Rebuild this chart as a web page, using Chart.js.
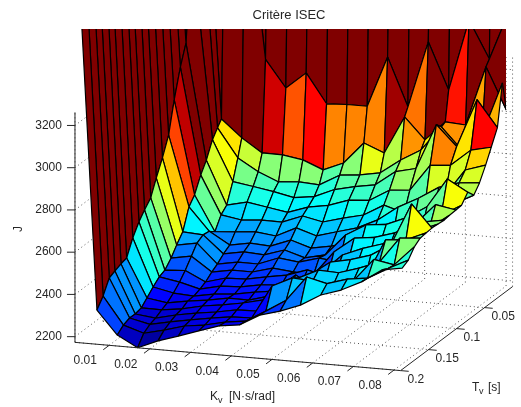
<!DOCTYPE html>
<html><head><meta charset="utf-8">
<style>html,body{margin:0;padding:0;background:#fff}canvas{display:block}</style>
<script src="https://cdn.jsdelivr.net/npm/chart.js@4"></script></head>
<body><canvas id="c" width="521" height="407"></canvas>
<script>
// Tick labels
const kvTicks=[0.01,0.02,0.03,0.04,0.05,0.06,0.07,0.08];
const tvTicks=[0.05,0.1,0.15,0.2];
const jTicks=[2200,2400,2600,2800,3000,3200];
const title='Critère ISEC';
// Grid of the surface
const kv=[0.002,0.007,0.012,0.017,0.022,0.027,0.032,0.037,0.042,0.047,0.052,0.057,0.062,0.067,0.072,0.077,0.082];
const tv=[0.003,0.008,0.014,0.021,0.03,0.041,0.051,0.062,0.072,0.083,0.094,0.104,0.115,0.125,0.136,0.147,0.157,0.168,0.178,0.189,0.2];
// J values, one array per Kv column, one entry per Tv row
const J00=[5000,4950,4900,4860,4820,4780,4740,4700,4660,4620,4580,4540,4500,4460,4420,4380,4340,4300,4250,4200,4134];
const J01=[4600,4500,4400,4100,3700,3283,3189,3056,2909,2823,2749,2675,2640,2603,2549,2476,2468,2456,2443,2379,2335];
const J02=[4300,4000,2878,2850,2812,2736,2686,2614,2577,2481,2440,2398,2363,2351,2325,2295,2268,2261,2262,2250,2225];
const J03=[4200,4000,2797,2716,2622,2532,2506,2448,2470,2475,2458,2416,2370,2335,2305,2280,2267,2250,2240,2220,2173];
const J04=[4100,3165,2734,2659,2607,2555,2490,2456,2413,2393,2367,2349,2324,2310,2299,2297,2280,2273,2260,2243,2214];
const J05=[4100,3038,2733,2619,2591,2539,2498,2464,2431,2411,2385,2367,2351,2333,2317,2310,2302,2290,2278,2271,2245];
const J06=[4100,3118,2718,2628,2571,2523,2497,2453,2425,2405,2384,2366,2354,2337,2325,2328,2316,2304,2295,2284,2278];
const J07=[4100,2980,2679,2622,2584,2556,2534,2500,2462,2437,2421,2393,2373,2355,2343,2327,2333,2322,2309,2306,2310];
const J08=[4100,2985,2720,2676,2626,2573,2514,2470,2432,2408,2410,2383,2390,2363,2356,2354,2356,2325,2312,2319,2323];
const J09=[4100,2985,2823,2686,2648,2606,2541,2498,2450,2430,2437,2377,2423,2376,2441,2363,2412,2385,2472,2375,2378];
const J10=[4100,3227,2784,2704,2665,2613,2564,2525,2478,2533,2426,2494,2398,2441,2388,2471,2410,2498,2519,2435,2405];
const J11=[4100,2999,2963,2773,2736,2670,2619,2571,2519,2589,2501,2568,2477,2530,2471,2540,2466,2544,2512,2553,2442];
const J12=[4200,3315,2863,2829,2759,2678,2590,2640,2510,2600,2530,2580,2490,2570,2510,2560,2500,2540,2500,2530,2498];
const J13=[4200,3095,2956,2946,2975,2804,2620,2690,2570,2640,2540,2610,2560,2600,2520,2590,2500,2570,2530,2560,2530];
const J14=[4300,3435,2950,2846,2880,2813,2690,2750,2610,2700,2590,2660,2620,2640,2560,2650,2690,2607,2640,2573,2577];
const J15=[4300,3259,3234,2926,3110,2893,2819,2780,2700,2840,2690,2760,2670,2720,2700,2849,2699,2729,2622,2627,2642];
const J16=[4400,3500,3038,3180,2986,2915,2850,2788,2750,2786,2746,2743,2741,2737,2740,2743,2741,2737,2717,2675,2659];
const cols=[J00,J01,J02,J03,J04,J05,J06,J07,J08,J09,J10,J11,J12,J13,J14,J15,J16];

// Axis limits and view
const kvMin=0.0016,kvMax=0.0816,tvMin=0,tvMax=0.2,jMin=2173,jMax=3262;
function P(k,t,j){return {x:76.6+4070*(k-0.002)+560*(tvMax-t),
  y:342.5+353*(k-0.002)-420*(tvMax-t)-(j-jMin)*0.2112};}
function depth(k,t){return 353*k+420*t;}
function jet(v){let t=Math.max(0,Math.min(1,(v-jMin)/(jMax-jMin)));
  t=Math.floor(t*63.999)/63;
  const f=a=>Math.round(255*Math.max(0,Math.min(1,1.5-Math.abs(4*t-a))));
  return `rgb(${f(3)},${f(2)},${f(1)})`;}

const faces=[];
for(let c=0;c<kv.length-1;c++)for(let r=0;r<tv.length-1;r++){
  const p=[P(kv[c],tv[r],cols[c][r]),P(kv[c+1],tv[r],cols[c+1][r]),
           P(kv[c+1],tv[r+1],cols[c+1][r+1]),P(kv[c],tv[r+1],cols[c][r+1])];
  p.push(p[0]);
  faces.push({d:depth((kv[c]+kv[c+1])/2,(tv[r]+tv[r+1])/2),
    ds:{data:p,showLine:true,fill:'shape',backgroundColor:jet(cols[c][r]),borderColor:'#000',
        borderWidth:1.2,borderJoinStyle:'bevel',pointRadius:0,tension:0,clip:0}});
}
faces.sort((a,b)=>b.d-a.d); // nearest first: Chart.js paints the last dataset first

const solid=[],dots=[];
const L=(a,b)=>solid.push({data:[a,b],showLine:true,borderColor:'#262626',borderWidth:1,pointRadius:0,clip:false,fill:false});
const D=(a,b)=>dots.push({data:[a,b],showLine:true,borderColor:'#555',borderWidth:1,borderDash:[1,3],pointRadius:0,clip:false,fill:false});
L(P(kvMin,tvMax,jMin),P(kvMin,tvMax,jMax));
L(P(kvMin,tvMax,jMin),P(kvMax,tvMax,jMin));
L(P(kvMax,tvMax,jMin),P(kvMax,tvMin,jMin));
jTicks.forEach(j=>{const a=P(kvMin,tvMax,j);L(a,{x:a.x-8,y:a.y});
  D(P(kvMin,tvMax,j),P(kvMin,tvMin,j));D(P(kvMin,tvMin,j),P(kvMax,tvMin,j));});
kvTicks.forEach(k=>{L(P(k,tvMax,jMin),P(k,tvMax+0.0105,jMin));
  D(P(k,tvMax,jMin),P(k,tvMin,jMin));D(P(k,tvMin,jMin),P(k,tvMin,jMax));});
tvTicks.forEach(t=>{L(P(kvMax,t,jMin),P(kvMax+0.002,t,jMin));
  D(P(kvMin,t,jMin),P(kvMax,t,jMin));D(P(kvMin,t,jMin),P(kvMin,t,jMax));});
D(P(kvMax,tvMin,jMin),P(kvMax,tvMin,jMax));
D(P(kvMin,tvMin,jMin),P(kvMin,tvMin,jMax));

const labels={id:'labels',afterDraw(ch){
  const g=ch.ctx,X=ch.scales.x,Y=ch.scales.y;
  const px=v=>X.getPixelForValue(v),py=v=>Y.getPixelForValue(v);
  g.save();g.fillStyle='#262626';g.textBaseline='middle';g.font='12px "Liberation Sans"';
  g.textAlign='right';
  jTicks.forEach(j=>{const a=P(kvMin,tvMax,j);g.fillText(String(j),px(a.x-13),py(a.y));});
  g.textAlign='center';
  kvTicks.forEach(k=>{const a=P(k,tvMax,jMin);g.fillText(String(k),px(a.x-24),py(a.y+15.5));});
  g.textAlign='left';
  tvTicks.forEach(t=>{const a=P(kvMax,t,jMin);g.fillText(String(t),px(a.x+7),py(a.y+9));});
  g.textAlign='center';
  g.font='13px "Liberation Sans"';g.fillText(title,289,15);
  g.font='12px "Liberation Sans"';
  g.save();g.translate(19,229);g.rotate(-Math.PI/2);g.fillText('J',0,0);g.restore();
  g.textAlign='left';
  g.fillText('K',210,397);g.font='9px "Liberation Sans"';g.fillText('v',218,401);
  g.font='12px "Liberation Sans"';g.fillText('[N·s/rad]',229,397);
  g.fillText('T',472,388);g.font='9px "Liberation Sans"';g.fillText('v',479,392);
  g.font='12px "Liberation Sans"';g.fillText('[s]',488,388);
  g.restore();
}};

new Chart(document.getElementById('c'),{type:'scatter',
  data:{datasets:[...solid,...faces.map(f=>f.ds),...dots]},
  options:{responsive:false,animation:false,events:[],
    layout:{padding:{left:75,right:15,top:29,bottom:32}},
    plugins:{legend:{display:false},tooltip:{enabled:false},title:{display:false}},
    elements:{line:{tension:0}},
    scales:{x:{type:'linear',display:false,min:75,max:506},
            y:{type:'linear',display:false,min:29,max:375,reverse:true}}},
  plugins:[labels]});
</script></body></html>
